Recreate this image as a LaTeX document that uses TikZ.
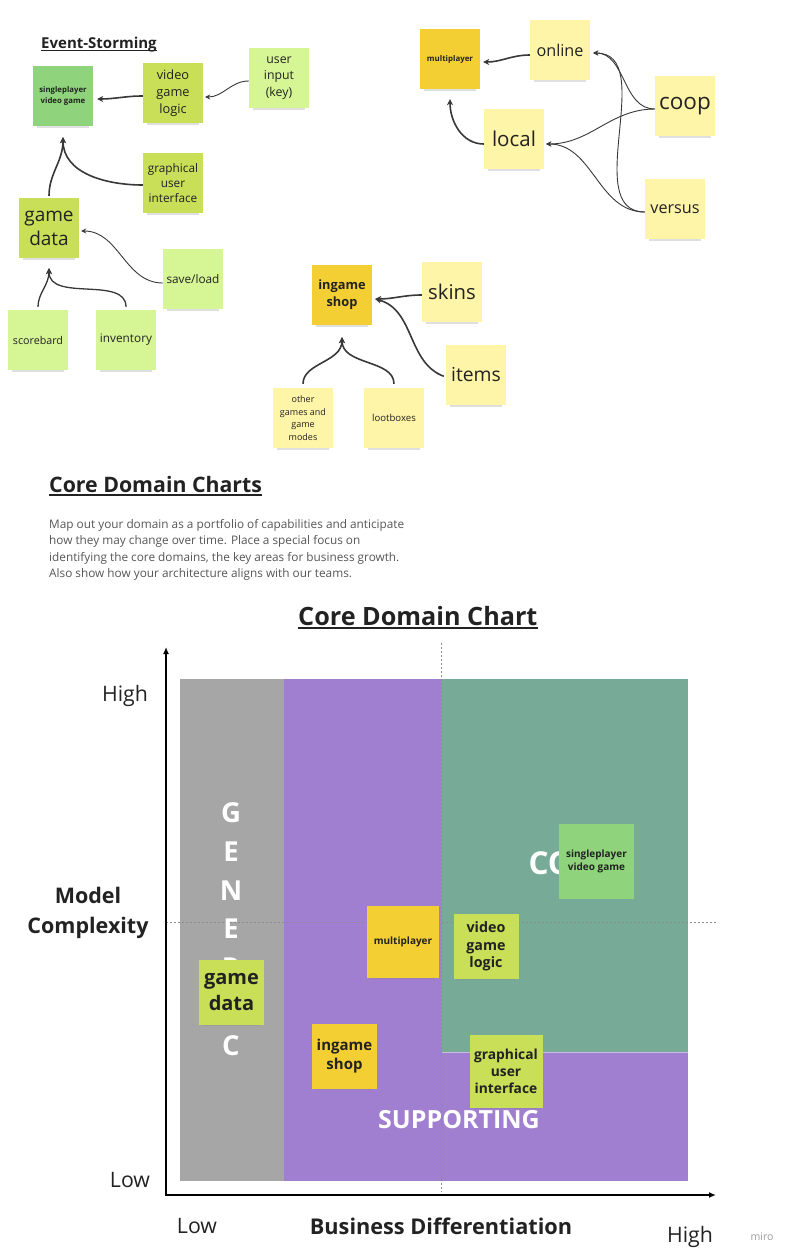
\documentclass[tikz,border=0pt]{standalone}
\usepackage{fontspec}
\setmainfont{Open Sans}
\usepackage{tikz}
\usetikzlibrary{positioning, arrows.meta, shadows}

\definecolor{sgreen}{HTML}{8FD47C}
\definecolor{ygreen}{HTML}{C9DF58}
\definecolor{lgreen}{HTML}{D6F594}
\definecolor{dyellow}{HTML}{F4CF34}
\definecolor{lyellow}{HTML}{FFF5A8}
\definecolor{genericgray}{HTML}{A6A6A6}
\definecolor{supportpurple}{HTML}{A07FD0}
\definecolor{coregreen}{HTML}{77AB98}
\definecolor{ink}{HTML}{222222}
\definecolor{bodytext}{HTML}{555555}
\definecolor{linkgray}{HTML}{383838}

\newcommand{\fsz}[2]{\fontsize{#1}{#2}\selectfont}

\begin{document}
\begin{tikzpicture}[
    x=1pt, y=-1pt,
    sticky/.style={rectangle, minimum width=60pt, minimum height=60pt, inner sep=1pt, align=center, text=ink,
        drop shadow={shadow xshift=0pt, shadow yshift=-6pt, shadow scale=0.88, opacity=0.25}},
    size/.style={minimum width=#1, minimum height=#1},
    heading/.style={anchor=base west, inner sep=0pt, text=ink},
    link/.style={draw=linkgray, line width=1.6pt, -{Stealth[length=6pt, width=6pt]}},
    midlink/.style={link, line width=1.3pt},
    thinlink/.style={link, line width=0.9pt, -{Stealth[length=5pt, width=5pt]}},
    axis/.style={draw=black, line width=1.8pt, -{Latex[length=7pt, width=6pt]}},
    guide/.style={draw=gray!90, line width=0.6pt, dash pattern=on 2pt off 2pt},
    regionlabel/.style={text=white, font={\fsz{27.5}{31}\bfseries}},
    axislabel/.style={text=ink, font={\fsz{21.3}{28}}}
    ]
    \useasboundingbox (0,0) rectangle (793,1259);

    % Event-Storming
    \node[heading, font={\fsz{15}{18}\bfseries}] (eventtitle) at (41,48) {Event-Storming};
    \draw[ink, line width=1.1pt] ([yshift=-2.5pt]eventtitle.base west) -- ([yshift=-2.5pt]eventtitle.base east);

    \node[sticky, fill=sgreen, font={\fsz{7.8}{10.5}\bfseries}] (single) at (63,96) {singleplayer\\video game};
    \node[sticky, fill=ygreen, font={\fsz{12.8}{17}}] (logic) at (173,93) {video\\game\\logic};
    \node[sticky, fill=lgreen, font={\fsz{12.3}{16.5}}] (input) at (279,78) {user\\input\\(key)};
    \node[sticky, fill=ygreen, font={\fsz{11.8}{15}}] (gui) at (173,183) {graphical\\user\\interface};
    \node[sticky, fill=ygreen, font={\fsz{19}{24}}] (gamedata) at (49,228) {game\\data};
    \node[sticky, fill=lgreen, font={\fsz{11.8}{15}}] (saveload) at (193,279) {save/load};
    \node[sticky, fill=lgreen, font={\fsz{10.7}{14}}] (scorebard) at (38,340) {scorebard};
    \node[sticky, fill=lgreen, font={\fsz{11.8}{15}}] (inventory) at (126,340) {inventory};

    \coordinate (singlein) at ([yshift=-11pt]single.south);
    \coordinate (gamein) at ([yshift=-10pt]gamedata.south);
    \draw[link] ([yshift=-3pt]logic.west) to[out=180,in=0] ([xshift=4pt,yshift=-3pt]single.east);
    \draw[thinlink] ([yshift=-3pt]input.west) to[out=180,in=0] ([xshift=2pt,yshift=-4pt]logic.east);
    \draw[link, shorten <=2pt] (gamedata.north) to[out=90,in=-90] (singlein);
    \draw[link] ([yshift=-2pt]gui.west) to[out=180,in=-90] (singlein);
    \draw[thinlink] ([yshift=-4pt]saveload.west) to[out=180,in=0] ([xshift=2pt,yshift=-3pt]gamedata.east);
    \draw[midlink, shorten <=3pt] (scorebard.north) to[out=90,in=-90] (gamein);
    \draw[midlink, shorten <=3pt] (inventory.north) to[out=90,in=-90] (gamein);

    % multiplayer
    \node[sticky, fill=dyellow, font={\fsz{7.9}{10}\bfseries}] (multi) at (450,59) {multiplayer};
    \node[sticky, fill=lyellow, font={\fsz{16.2}{20}}] (online) at (560,50) {online};
    \node[sticky, fill=lyellow, font={\fsz{20.5}{24}}] (local) at (514,139) {local};
    \node[sticky, fill=lyellow, font={\fsz{22.5}{26}}] (coop) at (685,106) {coop};
    \node[sticky, fill=lyellow, font={\fsz{16.2}{20}}] (versus) at (675,209) {versus};

    \coordinate (multiin) at ([yshift=-10pt]multi.south);
    \coordinate (onlinein) at ([xshift=3pt,yshift=-3pt]online.east);
    \coordinate (localin) at ([xshift=2pt,yshift=-5pt]local.east);
    \draw[link] ([yshift=-5pt]online.west) to[out=180,in=0] ([xshift=3pt,yshift=-3pt]multi.east);
    \draw[link] ([yshift=-5pt]local.west) to[out=180,in=-90] (multiin);
    \draw[thinlink] ([yshift=-3pt]coop.west) to[out=180,in=0] (onlinein);
    \draw[thinlink] ([yshift=-3pt]coop.west) to[out=180,in=0] (localin);
    \draw[thinlink] ([yshift=-3pt]versus.west) to[out=180,in=0] (onlinein);
    \draw[thinlink] ([yshift=-3pt]versus.west) to[out=180,in=0] (localin);

    % ingame shop
    \node[sticky, fill=dyellow, font={\fsz{12.8}{17}\bfseries}] (shop) at (342,295) {ingame\\shop};
    \node[sticky, fill=lyellow, font={\fsz{20.3}{24}}] (skins) at (452,292) {skins};
    \node[sticky, fill=lyellow, font={\fsz{19.3}{24}}] (items) at (476,375) {items};
    \node[sticky, fill=lyellow, font={\fsz{9}{12.5}}] (othergames) at (303,418) {other\\games and\\game\\modes};
    \node[sticky, fill=lyellow, font={\fsz{9.6}{12}}] (lootboxes) at (394,418) {lootboxes};

    \coordinate (shopin) at ([yshift=-12pt]shop.south);
    \draw[link] ([yshift=-3pt]skins.west) to[out=180,in=0] ([xshift=3pt,yshift=-4pt]shop.east);
    \draw[link, shorten <=2pt] ([yshift=-2pt]items.west) to[out=160,in=-15] ([xshift=3pt,yshift=-4pt]shop.east);
    \draw[link, shorten <=4pt] (othergames.north) to[out=90,in=-90] (shopin);
    \draw[link, shorten <=4pt] (lootboxes.north) to[out=90,in=-90] (shopin);

    % Core Domain Charts
    \node[heading, font={\fsz{21.3}{25}\bfseries}] (charttitle) at (49,492) {Core Domain Charts};
    \draw[ink, line width=1.6pt] ([yshift=-3pt]charttitle.base west) -- ([yshift=-3pt]charttitle.base east);
    \node[anchor=north west, inner sep=0pt, align=left, text=bodytext, font={\fsz{11.8}{16.5}}] (intro) at (49,519)
        {Map out your domain as a portfolio of capabilities and anticipate\\
         how they may change over time. Place a special focus on\\
         identifying the core domains, the key areas for business growth.\\
         Also show how your architecture aligns with our teams.};
    \node[heading, font={\fsz{25.2}{29}\bfseries}] (domaintitle) at (298,625) {Core Domain Chart};
    \draw[ink, line width=1.8pt] ([yshift=-3pt]domaintitle.base west) -- ([yshift=-3pt]domaintitle.base east);

    % regions
    \fill[genericgray] (180,679) rectangle (284,1181);
    \fill[supportpurple] (284,679) rectangle (688,1181);
    \fill[coregreen] (441,679) rectangle (688,1052);
    \draw[white, opacity=0.45, line width=0.8pt] (441,1052) -- (688,1052);
    \draw[guide] (441,643) -- (441,1192);
    \draw[guide] (166,922) -- (716,922);

    \foreach \ch [count=\i from 0] in {G,E,N,E,R,I,C}
        \node[regionlabel] (generic\i) at (231,813+38.7*\i) {\ch};
    \node[regionlabel, anchor=west, font={\fsz{31.5}{35}\bfseries}] (corelabel) at (525,863) {CORE};
    \node[regionlabel, font={\fsz{25}{29}\bfseries}] (supportlabel) at (459,1120) {SUPPORTING};

    % axes
    \coordinate (origin) at (166,1195);
    \draw[axis] ([xshift=-0.9pt]origin) -- (716,1195);
    \draw[axis] ([yshift=-0.9pt]origin) -- (166,647);

    \node[axislabel] (yhigh) at (125,696) {High};
    \node[axislabel] (ylow) at (130,1180) {Low};
    \node[axislabel, align=center, font={\fsz{21.5}{30}\bfseries}] (ytitle) at (88,913) {Model\\Complexity};
    \node[axislabel] (xlow) at (197,1226) {Low};
    \node[axislabel, font={\fsz{21.7}{28}\bfseries}] (xtitle) at (441,1226) {Business Differentiation};
    \node[axislabel] (xhigh) at (690,1237) {High};
    \node[text=gray!80, font={\fsz{10.5}{12}}] (brand) at (762,1237) {miro};

    % chart stickies
    \node[sticky, size=65pt, fill=ygreen, font={\fsz{20}{26}\bfseries}] (cgamedata) at (231.5,992.5) {game\\data};
    \node[sticky, size=72pt, fill=dyellow, font={\fsz{10}{12}\bfseries}] (cmulti) at (403,942) {multiplayer};
    \node[sticky, size=65pt, fill=dyellow, font={\fsz{15}{19}\bfseries}] (cshop) at (344.5,1056.5) {ingame\\shop};
    \node[sticky, size=75pt, fill=sgreen, font={\fsz{10}{13}\bfseries}] (csingle) at (596.5,861) {singleplayer\\video game};
    \node[sticky, size=65pt, fill=ygreen, font={\fsz{14.3}{17.5}\bfseries}] (clogic) at (486,946.5) {video\\game\\logic};
    \node[sticky, size=73pt, fill=ygreen, font={\fsz{13.8}{17}\bfseries}] (cgui) at (506,1071.5) {graphical\\user\\interface};
\end{tikzpicture}
\end{document}
